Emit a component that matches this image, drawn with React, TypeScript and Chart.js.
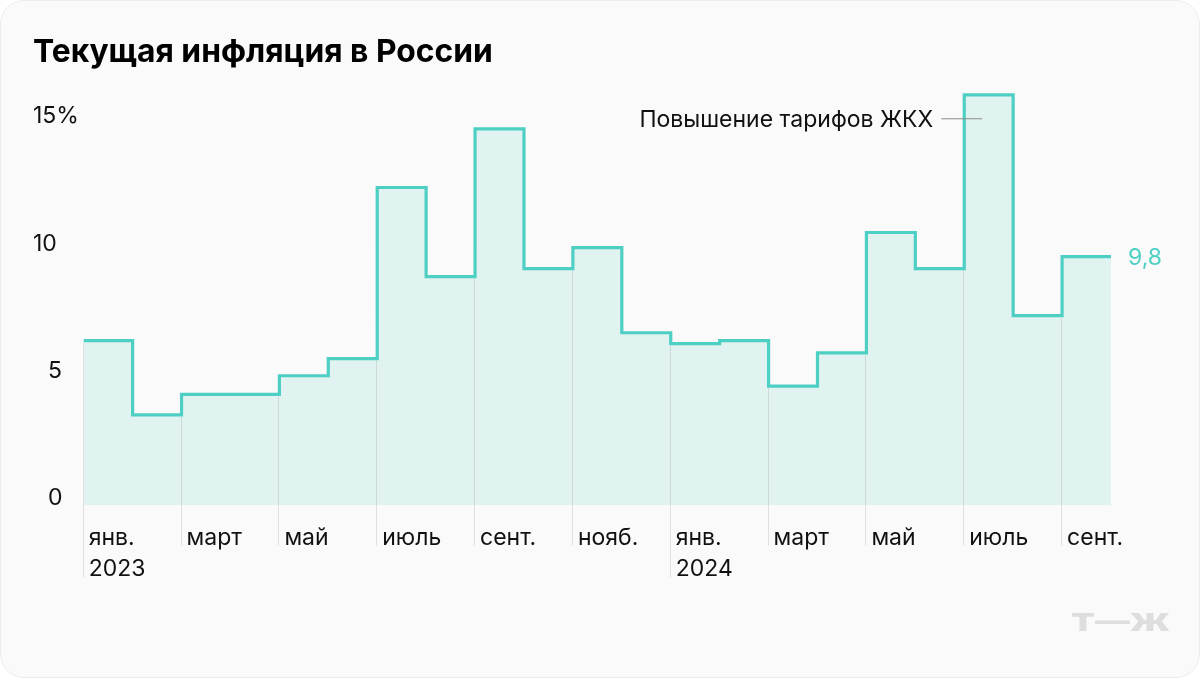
import { useRef, useEffect } from "react";
import { Chart, registerables } from "chart.js";

Chart.register(...registerables);

const values = [6.48, 3.56, 4.37, 4.37, 5.1, 5.77, 12.5, 9.0, 14.8, 9.31, 10.14, 6.79, 6.36, 6.48, 4.69, 6.0, 10.73, 9.31, 16.14, 7.46, 9.78];
const tickLabels = [["янв.", "2023"], "март", "май", "июль", "сент.", "нояб.", ["янв.", "2024"], "март", "май", "июль", "сент."];
const yTicks = ["0", "5", "10", "15%"];
const lastLabel = "9,8";
const noteText = "Повышение тарифов ЖКХ";
const noteIndex = 18;
const noteValue = 15.2;

const FONT = "Inter, 'Noto Sans', sans-serif";
const TEAL = "#4ecfc4";

const overlay = {
  id: "overlay",
  afterDatasetsDraw(chart: any) {
    const { ctx, scales } = chart;
    const x = scales.x;
    const y = scales.y;
    const zero = y.getPixelForValue(0);
    ctx.save();

    // month rules, from the top of the lower step down past the axis
    ctx.strokeStyle = "rgba(0,0,0,0.1)";
    ctx.lineWidth = 1;
    for (let i = 0; i < tickLabels.length; i++) {
      const idx = i * 2;
      const prev = idx > 0 ? values[idx - 1] : values[idx];
      const top = y.getPixelForValue(Math.min(prev, values[idx]));
      const px = Math.round(x.getPixelForValue(idx)) - 0.5;
      ctx.beginPath();
      ctx.moveTo(px, top + 2);
      ctx.lineTo(px, zero + (Array.isArray(tickLabels[i]) ? 72 : 40));
      ctx.stroke();
    }

    // last value
    ctx.font = "23px " + FONT;
    ctx.fillStyle = TEAL;
    ctx.textAlign = "left";
    ctx.textBaseline = "middle";
    ctx.fillText(lastLabel, x.getPixelForValue(values.length) + 17, y.getPixelForValue(values[values.length - 1]) + 1);

    // note with leader
    const noteX = x.getPixelForValue(noteIndex);
    const noteY = y.getPixelForValue(noteValue);
    ctx.fillStyle = "#111";
    ctx.textAlign = "right";
    ctx.fillText(noteText, noteX - 31, noteY + 1);
    ctx.strokeStyle = "#8a8a8a";
    ctx.beginPath();
    ctx.moveTo(noteX - 23, noteY);
    ctx.lineTo(noteX + 18, noteY);
    ctx.stroke();

    // logo
    ctx.fillStyle = "#dedede";
    ctx.font = "900 24px " + FONT;
    ctx.textAlign = "left";
    ctx.textBaseline = "alphabetic";
    ctx.translate(1071, 631);
    ctx.scale(1.45, 1);
    ctx.fillText("Т—Ж", 0, 0);
    ctx.restore();
  },
};

export default function App() {
  const canvasRef = useRef<HTMLCanvasElement>(null);

  useEffect(() => {
    const chart = new Chart(canvasRef.current as HTMLCanvasElement, {
      type: "line",
      data: {
        datasets: [
          {
            data: [...values.map((v, i) => ({ x: i, y: v })), { x: values.length, y: values[values.length - 1] }],
            stepped: "before",
            borderColor: TEAL,
            borderWidth: 3.2,
            borderJoinStyle: "miter",
            backgroundColor: "#e0f3f0",
            fill: "origin",
            pointRadius: 0,
            clip: false,
          },
        ],
      },
      options: {
        responsive: false,
        animation: false,
        layout: { padding: { left: 33, right: 89 } },
        plugins: {
          legend: { display: false },
          tooltip: { enabled: false },
          title: {
            display: true,
            text: "Текущая инфляция в России",
            align: "start",
            color: "#000",
            font: { family: FONT, size: 31.8, weight: "bold", lineHeight: 1.2 },
            padding: { top: 33, bottom: 1.84 },
          },
        },
        scales: {
          x: {
            type: "linear",
            min: 0,
            max: values.length,
            border: { display: false },
            grid: { display: false },
            afterFit: (scale: any) => {
              scale.height = 172.5;
            },
            ticks: {
              stepSize: 2,
              autoSkip: false,
              maxRotation: 0,
              align: "start",
              labelOffset: 5,
              padding: 9,
              color: "#111",
              font: { family: FONT, size: 23, lineHeight: 1.35 },
              callback: (v: any) => tickLabels[v / 2] as any,
            },
          },
          y: {
            min: 0,
            max: 17,
            border: { display: false },
            grid: { display: false },
            afterFit: (scale: any) => {
              scale.width = 50.7;
            },
            ticks: {
              stepSize: 5,
              includeBounds: false,
              crossAlign: "far",
              labelOffset: -7.5,
              color: "#111",
              font: { family: FONT, size: 23 },
              // figure space keeps the single digits under the second digit of 10 and 15
              callback: (v: any) => (v < 10 ? "\u2007" : "") + yTicks[v / 5],
            },
          },
        },
      },
      plugins: [overlay],
    } as any);

    return () => {
      chart.destroy();
    };
  }, []);

  return (
    <div
      style={{
        position: "fixed",
        left: 0,
        top: 0,
        width: 1200,
        height: 678,
        boxSizing: "border-box",
        background: "#fafafa",
        border: "1px solid #ececec",
        borderRadius: 24,
        overflow: "hidden",
      }}
    >
      <canvas ref={canvasRef} width={1200} height={678} style={{ display: "block", position: "absolute", left: -1, top: -1 }}></canvas>
    </div>
  );
}
